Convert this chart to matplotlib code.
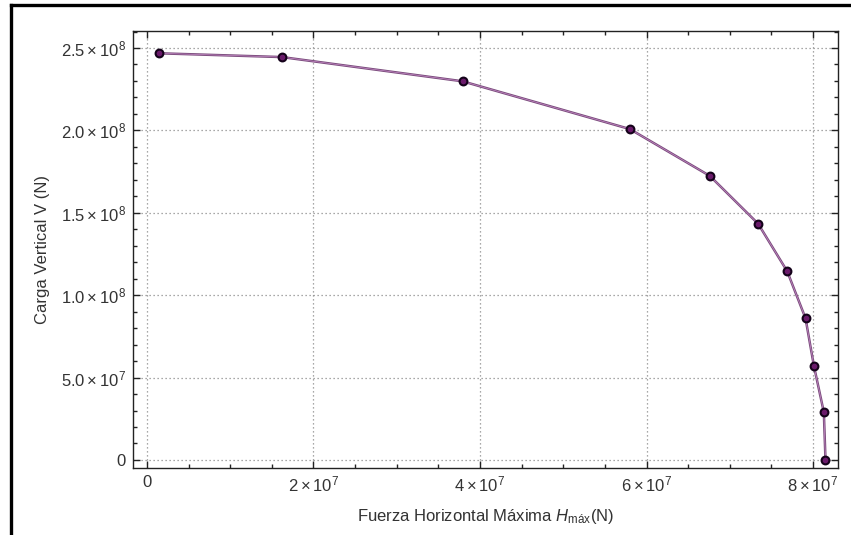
import matplotlib

matplotlib.use("Agg")
import matplotlib.pyplot as plt
from matplotlib.lines import Line2D
from matplotlib.ticker import MultipleLocator


# horizontal force H_max (N) and vertical load V (N)
h_max = [1.4e6, 16.2e6, 37.9e6, 58.0e6, 67.6e6, 73.4e6, 76.9e6, 79.1e6, 80.1e6, 81.3e6, 81.5e6]
v_load = [246.8e6, 244.5e6, 229.8e6, 200.8e6, 172.4e6, 143.4e6, 114.5e6, 86.0e6, 57.3e6, 29.0e6, 0.0]

x_ticks = [0, 2e7, 4e7, 6e7, 8e7]
x_tick_labels = ["0", r"$2\times10^{7}$", r"$4\times10^{7}$", r"$6\times10^{7}$", r"$8\times10^{7}$"]
y_ticks = [0, 5e7, 1e8, 1.5e8, 2e8, 2.5e8]
y_tick_labels = [
    "0",
    r"$5.0\times10^{7}$",
    r"$1.0\times10^{8}$",
    r"$1.5\times10^{8}$",
    r"$2.0\times10^{8}$",
    r"$2.5\times10^{8}$",
]

plt.rcParams["font.family"] = ["Liberation Sans", "DejaVu Sans"]
plt.rcParams["mathtext.fontset"] = "custom"
plt.rcParams["mathtext.rm"] = "Liberation Sans"
plt.rcParams["mathtext.it"] = "Liberation Sans:italic"
plt.rcParams["mathtext.bf"] = "Liberation Sans:bold"

fig = plt.figure(figsize=(8.51, 5.35), dpi=100)
ax = fig.add_axes([0.1563, 0.1252, 0.8284, 0.8168])

ax.plot(h_max, v_load, color="#7a4c7c", linewidth=1.8, zorder=3)
ax.plot(h_max, v_load, color="#c58ac6", linewidth=0.5, zorder=3)
ax.plot(
    h_max, v_load, linestyle="none", marker="o", markersize=5.6,
    markerfacecolor="#6a1a6a", markeredgecolor="#14021a", markeredgewidth=1.5, zorder=4,
)

ax.set_xlim(-1.68e6, 83.0e6)
ax.set_ylim(-4.9e6, 2.603e8)

ax.set_xticks(x_ticks)
ax.set_xticklabels(x_tick_labels)
ax.set_yticks(y_ticks)
ax.set_yticklabels(y_tick_labels)
ax.xaxis.set_minor_locator(MultipleLocator(5e6))
ax.yaxis.set_minor_locator(MultipleLocator(1e7))

ax.tick_params(which="both", direction="in", top=True, right=True,
               labelsize=12, colors="#222222", labelcolor="#333333", width=1)
ax.tick_params(which="major", length=5, pad=5)
ax.tick_params(which="minor", length=3)

ax.grid(which="major", color="#8c8c8c", linestyle=(0, (1, 2.2)), linewidth=0.9)
for spine in ax.spines.values():
    spine.set_color("#222222")
    spine.set_linewidth(1.0)

ax.set_xlabel(r"Fuerza Horizontal Máxima $H_{\mathrm{máx}}$(N)", fontsize=12, color="#333333", labelpad=9)
ax.set_ylabel("Carga Vertical V (N)", fontsize=12, color="#333333", labelpad=8)

# black frame on the top and left edges of the picture
fig.add_artist(Line2D([11 / 851, 11 / 851], [0, 1 - 5 / 535], color="black", linewidth=2.4,
                      transform=fig.transFigure))
fig.add_artist(Line2D([11 / 851, 1], [1 - 5 / 535, 1 - 5 / 535], color="black", linewidth=2.4,
                      transform=fig.transFigure))

fig.savefig("out.png", dpi=100)
plt.close(fig)
